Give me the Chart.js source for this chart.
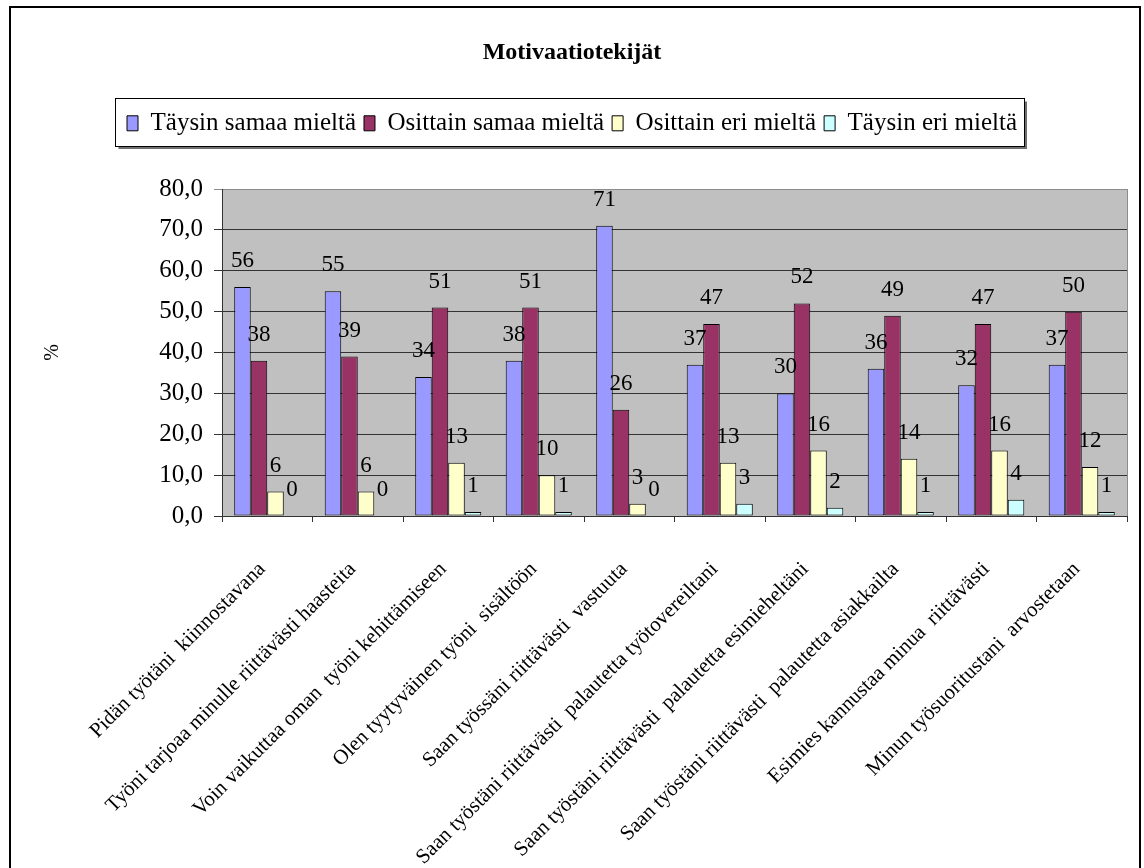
<!DOCTYPE html>
<html>
<head>
<meta charset="utf-8">
<title>Motivaatiotekijät</title>
<script src="https://cdn.jsdelivr.net/npm/chart.js@4/dist/chart.umd.min.js"></script>
<style>
  html, body { margin: 0; padding: 0; background: #fff; }
  #wrap { width: 1144px; height: 868px; }
</style>
</head>
<body>
<div id="wrap"><canvas id="chart" width="1144" height="868"></canvas></div>
<script>
// Kysymykset (x-akselin luokat)
const categories = [
  'Pidän työtäni  kiinnostavana',
  'Työni tarjoaa minulle riittävästi haasteita',
  'Voin vaikuttaa oman  työni kehittämiseen',
  'Olen tyytyväinen työni  sisältöön',
  'Saan työssäni riittävästi  vastuuta',
  'Saan työstäni riittävästi  palautetta työtovereiltani',
  'Saan työstäni riittävästi  palautetta esimieheltäni',
  'Saan työstäni riittävästi  palautetta asiakkailta',
  'Esimies kannustaa minua  riittävästi',
  'Minun työsuoritustani  arvostetaan'
];

// Vastausjakaumat prosentteina
const taysinSamaa   = [56, 55, 34, 38, 71, 37, 30, 36, 32, 37];
const osittainSamaa = [38, 39, 51, 51, 26, 47, 52, 49, 47, 50];
const osittainEri   = [6, 6, 13, 10, 3, 13, 16, 14, 16, 12];
const taysinEri     = [0, 0, 1, 1, 0, 3, 2, 1, 4, 1];

const seriesNames = ['Täysin samaa mieltä', 'Osittain samaa mieltä', 'Osittain eri mieltä', 'Täysin eri mieltä'];
const seriesColors = ['#9999ff', '#993366', '#ffffcc', '#ccffff'];

// Y-akselin asteikko
const yTicks = [0, 10, 20, 30, 40, 50, 60, 70, 80];

const SERIF = '"Liberation Serif", "DejaVu Serif", "Times New Roman", serif';

const seriesData = [taysinSamaa, osittainSamaa, osittainEri, taysinEri];

// Taustat, kehykset ja selitelaatikko
const chartFrame = {
  id: 'chartFrame',
  beforeDraw(chart) {
    const { ctx, chartArea: a } = chart;
    ctx.save();
    ctx.fillStyle = '#ffffff';
    ctx.fillRect(0, 0, chart.width, chart.height);
    ctx.fillStyle = '#c0c0c0';
    ctx.fillRect(a.left, a.top, a.right - a.left, a.bottom - a.top);
    ctx.restore();
  },
  afterDraw(chart) {
    const { ctx, chartArea: a } = chart;
    ctx.save();
    // ulkokehys
    ctx.strokeStyle = '#000';
    ctx.lineWidth = 2;
    ctx.beginPath();
    ctx.moveTo(10, chart.height);
    ctx.lineTo(10, 7);
    ctx.lineTo(1140, 7);
    ctx.lineTo(1140, chart.height);
    ctx.stroke();
    // piirtoalueen oikea reuna
    ctx.strokeStyle = '#8c8c8c';
    ctx.lineWidth = 1;
    ctx.beginPath();
    ctx.moveTo(Math.round(a.right) + 0.5, a.top);
    ctx.lineTo(Math.round(a.right) + 0.5, a.bottom);
    ctx.stroke();
    // selitteen laatikko
    const boxes = chart.legend && chart.legend.legendHitBoxes;
    if (boxes && boxes.length) {
      let l = Infinity, r = -Infinity, t = Infinity, b = -Infinity;
      boxes.forEach(h => {
        l = Math.min(l, h.left); r = Math.max(r, h.left + h.width);
        t = Math.min(t, h.top); b = Math.max(b, h.top + h.height);
      });
      const cy = (t + b) / 2;
      const x0 = Math.round(l - 12) + 0.5, x1 = Math.round(r + 7) + 0.5;
      const y0 = Math.round(cy - 25) + 0.5, y1 = Math.round(cy + 23) + 0.5;
      ctx.strokeStyle = '#6e6e6e';
      ctx.lineWidth = 2;
      ctx.beginPath();
      ctx.moveTo(x0 + 3, y1 + 1.5);
      ctx.lineTo(x1 + 1.5, y1 + 1.5);
      ctx.lineTo(x1 + 1.5, y0 + 3);
      ctx.stroke();
      ctx.strokeStyle = '#000';
      ctx.lineWidth = 1;
      ctx.strokeRect(x0, y0, x1 - x0, y1 - y0);
    }
    ctx.restore();
  }
};

// Arvot pylväiden yläpuolelle
const valueLabels = {
  id: 'valueLabels',
  afterDatasetsDraw(chart) {
    const ctx = chart.ctx;
    ctx.save();
    ctx.font = '23px ' + SERIF;
    ctx.fillStyle = '#000';
    ctx.textAlign = 'center';
    ctx.textBaseline = 'middle';
    chart.data.datasets.forEach((ds, i) => {
      const meta = chart.getDatasetMeta(i);
      meta.data.forEach((bar, j) => {
        ctx.fillText(String(ds.data[j]), bar.x, bar.y - 26);
      });
    });
    ctx.restore();
  }
};

Chart.defaults.color = '#000';
Chart.defaults.font.family = SERIF;

new Chart(document.getElementById('chart'), {
  type: 'bar',
  data: {
    labels: categories,
    datasets: seriesNames.map((name, i) => ({
      label: name,
      data: seriesData[i],
      backgroundColor: seriesColors[i],
      borderColor: '#000',
      borderWidth: 1,
      borderSkipped: false,
      categoryPercentage: 0.73,
      barPercentage: 1.0
    }))
  },
  options: {
    responsive: false,
    animation: false,
    events: [],
    layout: { padding: { top: 0, left: 17, right: 17, bottom: 0 } },
    plugins: {
      title: {
        display: true,
        text: 'Motivaatiotekijät',
        font: { size: 24, weight: 'bold', family: SERIF, lineHeight: 1.2 },
        color: '#000',
        padding: { top: 38, bottom: 36 }
      },
      legend: {
        display: true,
        position: 'top',
        labels: {
          boxWidth: 11,
          boxHeight: 15,
          padding: 8,
          color: '#000',
          font: { size: 25, family: SERIF }
        }
      },
      subtitle: {
        display: true,
        text: '',
        weight: 500,
        font: { size: 36, lineHeight: 1.2 },
        padding: { top: 0, bottom: 0 }
      },
      tooltip: { enabled: false }
    },
    scales: {
      x: {
        offset: true,
        afterFit(scale) { scale.height = 352; },
        grid: {
          offset: true,
          drawOnChartArea: false,
          drawTicks: true,
          tickLength: 6,
          color: '#333'
        },
        border: { display: true, color: '#333', width: 1 },
        ticks: {
          autoSkip: false,
          maxRotation: 45,
          minRotation: 45,
          padding: 35,
          labelOffset: -5,
          color: '#000',
          font: { size: 21, family: SERIF }
        }
      },
      y: {
        min: yTicks[0],
        max: yTicks[yTicks.length - 1],
        afterFit(scale) { scale.width = 205; },
        afterBuildTicks(scale) { scale.ticks = yTicks.map(v => ({ value: v })); },
        grid: {
          drawTicks: true,
          tickLength: 8,
          color: ctx => (ctx.tick && ctx.tick.value === yTicks[yTicks.length - 1]) ? '#8c8c8c' : '#333',
          lineWidth: 1
        },
        border: { display: true, color: '#333', width: 1 },
        ticks: {
          padding: 11,
          color: '#000',
          font: { size: 25, family: SERIF },
          callback: v => Number(v).toFixed(1).replace('.', ',')
        },
        title: {
          display: true,
          text: '%',
          color: '#000',
          font: { size: 20, family: SERIF, lineHeight: 1.2 },
          padding: { top: 24, bottom: 0 }
        }
      }
    }
  },
  plugins: [chartFrame, valueLabels]
});
</script>
</body>
</html>
